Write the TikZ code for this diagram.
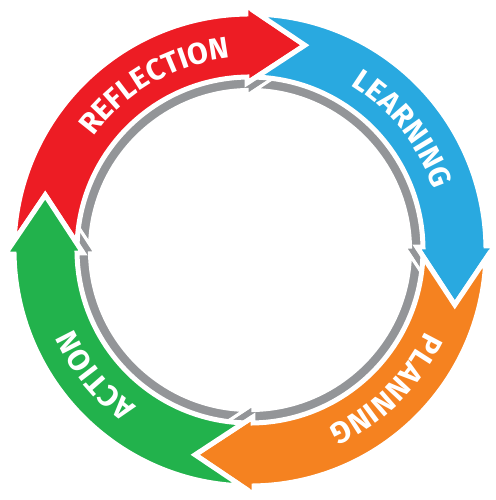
\documentclass[tikz,border=0pt]{standalone}
\usepackage{fontspec}
\setsansfont{Fira Sans}
\usetikzlibrary{decorations.text}
\definecolor{reflectred}{HTML}{ED1C24}
\definecolor{learnblue}{HTML}{29A9E0}
\definecolor{planorange}{HTML}{F58220}
\definecolor{actgreen}{HTML}{22B24C}
\definecolor{ringgray}{HTML}{939598}
% one arrow of the cycle, given the angle of its tip
\newcommand{\cyclearrow}[1]{%
  (#1+102.9:236) arc[start angle=#1+102.9, end angle=#1+16, radius=236]
  -- (#1+16:245) -- (#1:212) -- (#1+16:167) -- (#1+16:173)
  arc[start angle=#1+16, end angle=#1+102.9, radius=173]
  -- (#1+90:212) -- cycle}
\begin{document}
\begin{tikzpicture}
	[x=1pt,y=1pt,
	arrowpiece/.style={fill=#1,draw=white,line width=5pt,line join=miter},
	shadowpiece/.style={fill=ringgray,draw=white,line width=3pt,line join=miter},
	cyclelabel/.style={decorate,decoration={text along path,text align=center,text color=white,
		text={|\sffamily\bfseries\fontsize{30}{30}\selectfont|#1}}}]
	\useasboundingbox (-250,-250) rectangle (245,250);
	% grey ring
	\begin{scope}[scale=0.928]
		\foreach \tip in {75,-15,-105,165}
			\path[shadowpiece] \cyclearrow{\tip};
	\end{scope}
	% coloured arrows
	\foreach \tip/\col in {75/reflectred,-15/learnblue,-105/planorange,165/actgreen}
		\path[arrowpiece=\col] \cyclearrow{\tip};
	% labels
	\path[cyclelabel=REFLECTION] (170:193) arc[start angle=170,end angle=70,radius=193];
	\path[cyclelabel=LEARNING] (88.4:193) arc[start angle=88.4,end angle=-11.6,radius=193];
	\path[cyclelabel=PLANNING] (4.4:193) arc[start angle=4.4,end angle=-95.6,radius=193];
	\path[cyclelabel=ACTION] (269:193) arc[start angle=269,end angle=169,radius=193];
\end{tikzpicture}
\end{document}
